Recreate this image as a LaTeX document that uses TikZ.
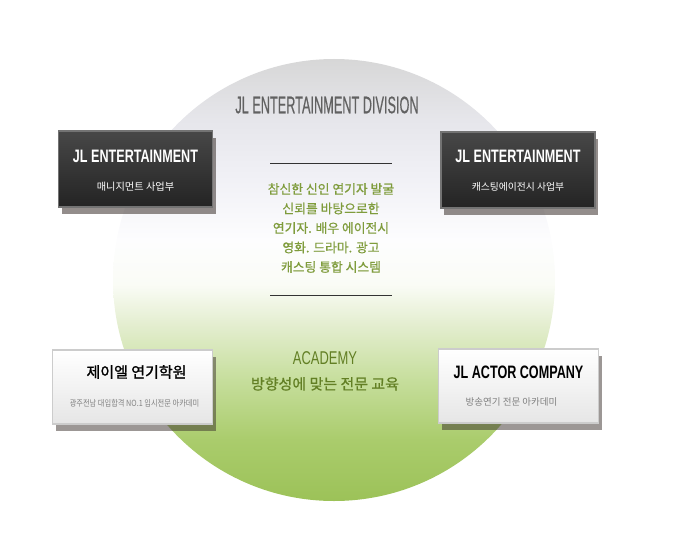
\documentclass[tikz,border=0pt]{standalone}
\usepackage{fontspec}
\setmainfont{Noto Sans CJK KR}
\newfontfamily\condfont[FakeStretch=0.7]{Liberation Sans}
\newfontfamily\divfont[FakeStretch=0.53,FakeBold=0.4]{Liberation Sans}
\newfontfamily\kobold[FakeBold=1.2]{Noto Sans CJK KR}
\newfontfamily\komed[FakeBold=0.7]{Noto Sans CJK KR}
\newfontfamily\konarrow[FakeStretch=0.85]{Noto Sans CJK KR}
\usetikzlibrary{positioning,shadows}
\definecolor{discgrn}{HTML}{9CC258}
\definecolor{discgrnB}{HTML}{AACC6C}
\definecolor{discgrnC}{HTML}{C6DE9C}
\definecolor{discgrnD}{HTML}{E4EED0}
\definecolor{discmid}{HTML}{FAFCF6}
\definecolor{discwht}{HTML}{FDFDFE}
\definecolor{discgryC}{HTML}{F1F1F6}
\definecolor{discgryB}{HTML}{E6E6EB}
\definecolor{discgry}{HTML}{D7D7D7}
\definecolor{leafgrn}{HTML}{7F9C3C}
\definecolor{olivegrn}{HTML}{627F24}
\definecolor{shadowbrn}{HTML}{3A302C}
\pgfdeclareverticalshading{discshade}{100bp}{color(0bp)=(discgrn); color(25bp)=(discgrn); color(31.9bp)=(discgrnB); color(38.7bp)=(discgrnC); color(45bp)=(discgrnD); color(49.5bp)=(discmid); color(54.5bp)=(discwht); color(61.3bp)=(discgryC); color(68.1bp)=(discgryB); color(75bp)=(discgry); color(100bp)=(discgry)}
\tikzset{
  darkbox/.style={draw=black!55,line width=1.2pt,top color=black!72,bottom color=black!86,minimum width=154pt,minimum height=76pt,drop shadow={shadow xshift=3pt,shadow yshift=-7pt,opacity=.55,fill=shadowbrn}},
  lightbox/.style={draw=black!20,line width=1.2pt,top color=white,bottom color=black!10,minimum width=160pt,minimum height=74pt,drop shadow={shadow xshift=3pt,shadow yshift=-7pt,opacity=.5,fill=shadowbrn}},
  darkhead/.style={text=white,font=\condfont\bfseries\fontsize{18}{18}\selectfont,inner sep=0pt},
  darksub/.style={text=white,font=\fontsize{10.2}{11}\selectfont,inner sep=0pt},
  lighthead/.style={text=black,font=\condfont\bfseries\fontsize{18}{18}\selectfont,inner sep=0pt},
  lightsub/.style={text=black!50,font=\fontsize{9.5}{10}\selectfont,inner sep=0pt}
}
\begin{document}
\begin{tikzpicture}[x=1pt,y=-1pt]
\useasboundingbox (0,0) rectangle (674,535);
\shade[shading=discshade] (334,280) circle[radius=221];
\node[text=black!62,font=\divfont\fontsize{24}{24}\selectfont,inner sep=0pt] (division) at (327,105) {JL ENTERTAINMENT DIVISION};
\node[darkbox] (mgmt) at (135.5,169) {};
\node[darkhead,yshift=13pt] (mgmtH) at (mgmt) {JL ENTERTAINMENT};
\node[darksub,yshift=-18pt] (mgmtS) at (mgmt) {매니지먼트 사업부};
\node[darkbox] (cast) at (518,170) {};
\node[darkhead,yshift=14pt] (castH) at (cast) {JL ENTERTAINMENT};
\node[darksub,font=\fontsize{9.8}{10}\selectfont,yshift=-17pt] (castS) at (cast) {캐스팅에이전시 사업부};
\node[lightbox] (school) at (132.5,387) {};
\node[lighthead,font=\kobold\fontsize{15}{15}\selectfont,xshift=4pt,yshift=15pt] (schoolH) at (school) {제이엘 연기학원};
\node[lightsub,font=\konarrow\fontsize{8.5}{9}\selectfont,xshift=2pt,yshift=-16pt] (schoolS) at (school) {광주전남 대입합격 NO.1 입시전문 아카데미};
\node[lightbox] (actor) at (518.5,386) {};
\node[lighthead,yshift=14pt] (actorH) at (actor) {JL ACTOR COMPANY};
\node[lightsub,xshift=-7pt,yshift=-16pt] (actorS) at (actor) {방송연기 전문 아카데미};
\coordinate (ruleAl) at (270,163); \coordinate (ruleAr) at (392,163);
\coordinate (ruleBl) at (270,295); \coordinate (ruleBr) at (392,295);
\draw[black!80,line width=.8pt] (ruleAl) -- (ruleAr);
\draw[black!80,line width=.8pt] (ruleBl) -- (ruleBr);
\node[text=leafgrn,align=center,font=\komed\fontsize{12.8}{19.5}\selectfont,inner sep=0pt] (pitch) at (331,228) {참신한 신인 연기자 발굴\\신뢰를 바탕으로한\\연기자. 배우 에이전시\\영화. 드라마. 광고\\캐스팅 통합 시스템};
\node[text=olivegrn,font=\condfont\fontsize{18.5}{18}\selectfont,inner sep=0pt] (acad) at (325,358) {ACADEMY};
\node[text=olivegrn,font=\komed\fontsize{15}{15}\selectfont,inner sep=0pt,below=12pt of acad] (edu) {방향성에 맞는 전문 교육};
\end{tikzpicture}
\end{document}
